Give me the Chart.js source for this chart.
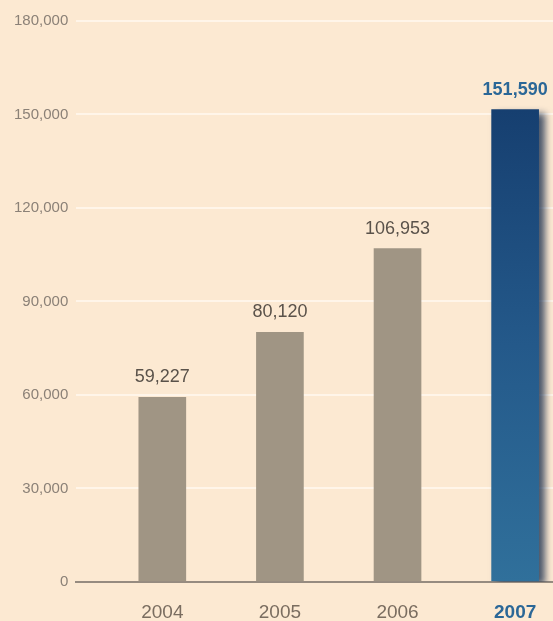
<!DOCTYPE html>
<html>
<head>
<meta charset="utf-8">
<script src="https://cdn.jsdelivr.net/npm/chart.js@4/dist/chart.umd.min.js"></script>
<style>
    html, body { margin: 0; padding: 0; background: #fce9d2; overflow: hidden; }
    #wrap { width: 553px; height: 621px; }
</style>
</head>
<body>
<div id="wrap"><canvas id="myChart" width="553" height="621"></canvas></div>
<script>
const years = ["2004", "2005", "2006", "2007"];
const values = [59227, 80120, 106953, 151590];
const highlightIndex = 3;
const yTicks = [0, 30000, 60000, 90000, 120000, 150000, 180000];

const grayBar = "#a09584";
const blueText = "#2b6797";
const fontFamily = "'Liberation Sans', Arial, Helvetica, sans-serif";

const fmt = (v) => v.toLocaleString("en-US");

// one dataset for the past years, one for the highlighted year
const pastData = [];
const currentData = [];
values.forEach((v, i) => {
    if (i === highlightIndex) currentData.push({ x: i, y: v });
    else pastData.push({ x: i, y: v });
});

const blueGradient = (context) => {
    const { chart } = context;
    const area = chart.chartArea;
    if (!area) return "#2a5f8f";
    const top = chart.scales.y.getPixelForValue(values[highlightIndex]);
    const g = chart.ctx.createLinearGradient(0, top, 0, area.bottom);
    g.addColorStop(0, "#163f70");
    g.addColorStop(0.5, "#24598a");
    g.addColorStop(1, "#30709b");
    return g;
};

// soft shadow on the right of the highlighted bar
const barShadow = {
    id: "barShadow",
    beforeDatasetDraw(chart, args) {
        if (args.index !== 1) return;
        const ctx = chart.ctx;
        ctx.save();
        ctx.shadowColor = "rgba(12, 35, 70, 0.75)";
        ctx.shadowBlur = 7;
        ctx.shadowOffsetX = 6;
        ctx.shadowOffsetY = 4;
    },
    afterDatasetDraw(chart, args) {
        if (args.index !== 1) return;
        chart.ctx.restore();
    },
};

// value above each bar
const valueLabels = {
    id: "valueLabels",
    afterDatasetsDraw(chart) {
        const ctx = chart.ctx;
        ctx.save();
        ctx.textAlign = "center";
        ctx.textBaseline = "alphabetic";
        chart.data.datasets.forEach((ds, di) => {
            chart.getDatasetMeta(di).data.forEach((bar, i) => {
                const v = ds.data[i].y;
                const hl = ds.data[i].x === highlightIndex;
                ctx.font = (hl ? "bold " : "") + "18px " + fontFamily;
                ctx.fillStyle = hl ? blueText : "#5a524a";
                ctx.fillText(fmt(v), bar.x, bar.y - 15);
            });
        });
        ctx.restore();
    },
};

const ctx = document.getElementById("myChart");
const myChart = new Chart(ctx, {
    type: "bar",
    data: {
        datasets: [
            {
                data: pastData,
                backgroundColor: grayBar,
                barThickness: 47,
                grouped: false,
            },
            {
                data: currentData,
                backgroundColor: blueGradient,
                barThickness: 47,
                grouped: false,
            },
        ],
    },
    plugins: [barShadow, valueLabels],
    options: {
        responsive: false,
        animation: false,
        layout: { padding: { top: 21, left: 6, right: 0, bottom: -23 } },
        plugins: {
            legend: { display: false },
            tooltip: { enabled: false },
        },
        scales: {
            x: {
                type: "linear",
                offset: false,
                min: -0.732,
                max: 3.322,
                afterBuildTicks: (scale) => {
                    scale.ticks = years.map((_, i) => ({ value: i }));
                },
                // year labels sit well inside the plot, no edge padding needed
                afterFit: (scale) => {
                    scale.paddingLeft = 0;
                    scale.paddingRight = 0;
                },
                grid: { display: false, drawTicks: false },
                border: { display: true, color: "#968b80", width: 2 },
                ticks: {
                    padding: 23,
                    callback: (value) => years[value],
                    color: (c) => (c.index === highlightIndex ? blueText : "#7a6d60"),
                    font: (c) => ({
                        family: fontFamily,
                        size: 19,
                        lineHeight: 0.85,
                        weight: c.index === highlightIndex ? "bold" : "normal",
                    }),
                },
            },
            y: {
                min: 0,
                max: 180000,
                afterBuildTicks: (scale) => {
                    scale.ticks = yTicks.map((v) => ({ value: v }));
                },
                grid: { color: "#fff5e9", lineWidth: 2, drawTicks: false },
                border: { display: false },
                ticks: {
                    padding: 8,
                    color: "#8b8177",
                    font: { family: fontFamily, size: 15 },
                    callback: (value) => fmt(value),
                },
            },
        },
    },
});
</script>
</body>
</html>
